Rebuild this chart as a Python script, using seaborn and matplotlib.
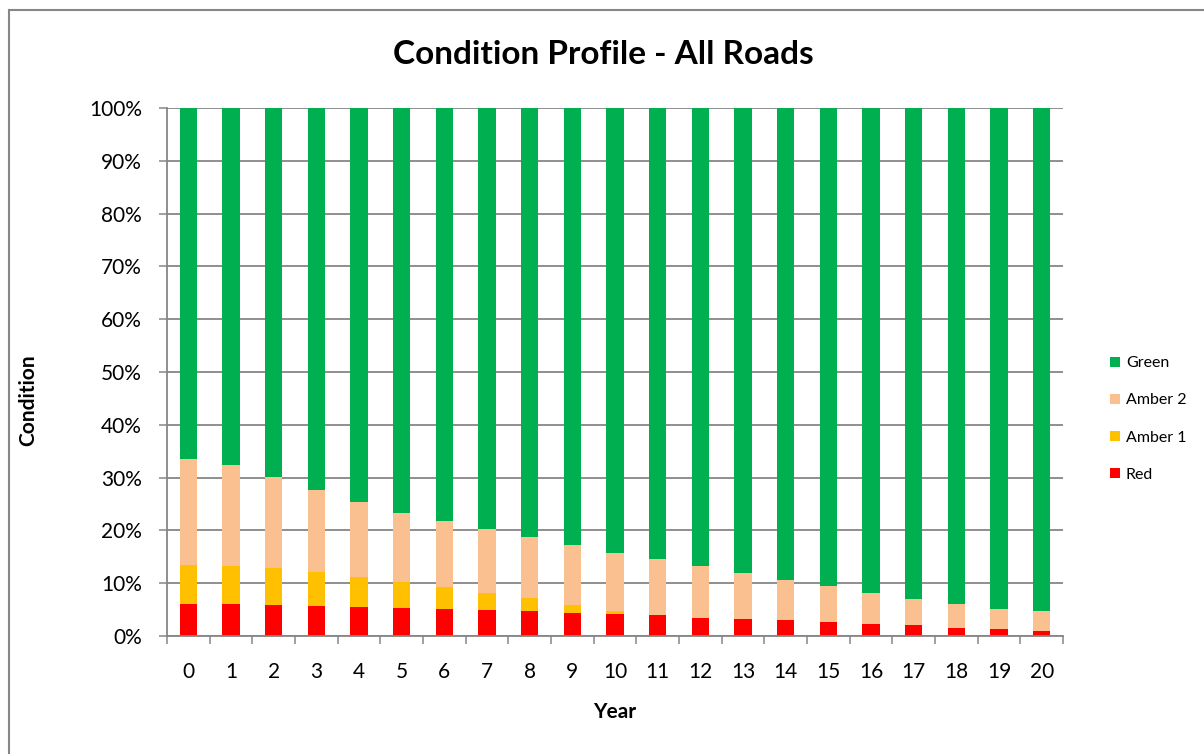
import numpy as np
import pandas as pd
import matplotlib
matplotlib.use("Agg")
import matplotlib.pyplot as plt
from matplotlib.patches import Patch, Rectangle
from matplotlib.ticker import FuncFormatter, FixedLocator
import seaborn as sns

# ─────────────────────────────────────────────
# DATA (percent of network in each condition band)
# ─────────────────────────────────────────────
years = list(range(21))
red = [6.1, 6.0, 5.9, 5.7, 5.5, 5.3, 5.1, 4.9, 4.7, 4.4, 4.2,
       3.9, 3.5, 3.2, 3.0, 2.7, 2.3, 2.0, 1.6, 1.4, 1.0]
amber1 = [7.3, 7.3, 7.0, 6.4, 5.7, 4.9, 4.2, 3.3, 2.5, 1.5, 0.5,
          0.0, 0.0, 0.0, 0.0, 0.0, 0.0, 0.0, 0.0, 0.0, 0.0]
amber2 = [20.1, 19.0, 17.2, 15.5, 14.2, 13.1, 12.5, 12.0, 11.6, 11.3, 11.1,
          10.7, 9.7, 8.7, 7.7, 6.8, 5.9, 5.1, 4.5, 3.7, 3.8]
green = [100 - r - a1 - a2 for r, a1, a2 in zip(red, amber1, amber2)]

series_names = ["Green", "Amber 2", "Amber 1", "Red"]
colors = {"Green": "#00B050", "Amber 2": "#FAC090",
          "Amber 1": "#FFC000", "Red": "#FF0000"}

# ─────────────────────────────────────────────
# STYLE
# ─────────────────────────────────────────────
sns.set_theme(style="white")
plt.rcParams["font.family"] = ["Lato", "DejaVu Sans"]
plt.rcParams["text.color"] = "black"
plt.rcParams["axes.labelcolor"] = "black"
plt.rcParams["xtick.color"] = "black"
plt.rcParams["ytick.color"] = "black"
GRID = "#868686"

df = pd.DataFrame({"Year": years, "Red": red, "Amber 1": amber1,
                   "Amber 2": amber2, "Green": green})
# cumulative heights, drawn tallest first so the stack shows through
df["cum_Red"] = df["Red"]
df["cum_Amber 1"] = df["cum_Red"] + df["Amber 1"]
df["cum_Amber 2"] = df["cum_Amber 1"] + df["Amber 2"]
df["cum_Green"] = df["cum_Amber 2"] + df["Green"]

fig = plt.figure(figsize=(12.04, 7.54), dpi=100)
ax = fig.add_axes([167 / 1204, 1 - 636 / 754, (1063 - 167) / 1204, (636 - 108) / 754])

for name in series_names:
    sns.barplot(data=df, x="Year", y=f"cum_{name}", color=colors[name],
                width=0.4, linewidth=0, saturation=1, ax=ax)

ax.set_ylim(0, 100)
ax.set_xlim(-0.5, len(years) - 0.5)
ax.set_axisbelow(True)
ax.yaxis.set_major_locator(FixedLocator(np.arange(0, 101, 10)))
ax.yaxis.set_major_formatter(FuncFormatter(lambda v, p: f"{v:.0f}%"))
ax.grid(axis="y", color=GRID, linewidth=1.3)
ax.grid(axis="x", visible=False)

for s in ["top", "right"]:
    ax.spines[s].set_visible(False)
for s in ["left", "bottom"]:
    ax.spines[s].set_color(GRID)
    ax.spines[s].set_linewidth(1.3)

# category boundary ticks on x (Excel style)
ax.xaxis.set_minor_locator(FixedLocator(np.arange(-0.5, len(years), 1.0)))
ax.tick_params(axis="x", which="minor", length=6, width=1.1, color=GRID, bottom=True)
ax.tick_params(axis="x", which="major", length=0, pad=19, labelsize=15,
               labelcolor="black")
ax.tick_params(axis="y", which="major", length=6, width=1.1, color=GRID,
               left=True, pad=12, labelsize=15, labelcolor="black")

ax.set_xlabel("Year", fontsize=15, fontweight="bold")
ax.xaxis.set_label_coords(0.5, -(712 - 636) / 528, transform=ax.transAxes)
ax.set_ylabel("Condition", fontsize=15, fontweight="bold")
ax.yaxis.set_label_coords(-(167 - 28) / 896, (636 - 400) / 528)
ax.xaxis.label.set_va("center")
ax.yaxis.label.set_va("center")

fig.text(0.5015, 1 - 55 / 754, "Condition Profile - All Roads", ha="center",
         va="center", fontsize=24, fontweight="bold", color="black")

handles = [Patch(facecolor=colors[n], edgecolor="none", label=n) for n in series_names]
fig.legend(handles=handles, loc="center left",
           bbox_to_anchor=(1102 / 1204, 1 - 419 / 754), frameon=False,
           fontsize=11.5, handlelength=0.6, handleheight=0.6,
           handletextpad=0.4, labelspacing=1.45, borderpad=0,
           labelcolor="black")

# chart area border
fig.patches.append(Rectangle((9 / 1204, -0.01), 1.5, 1 - 10 / 754 + 0.01,
                             transform=fig.transFigure, fill=False,
                             edgecolor=GRID, linewidth=1.5))

fig.savefig("out.png", dpi=100)
